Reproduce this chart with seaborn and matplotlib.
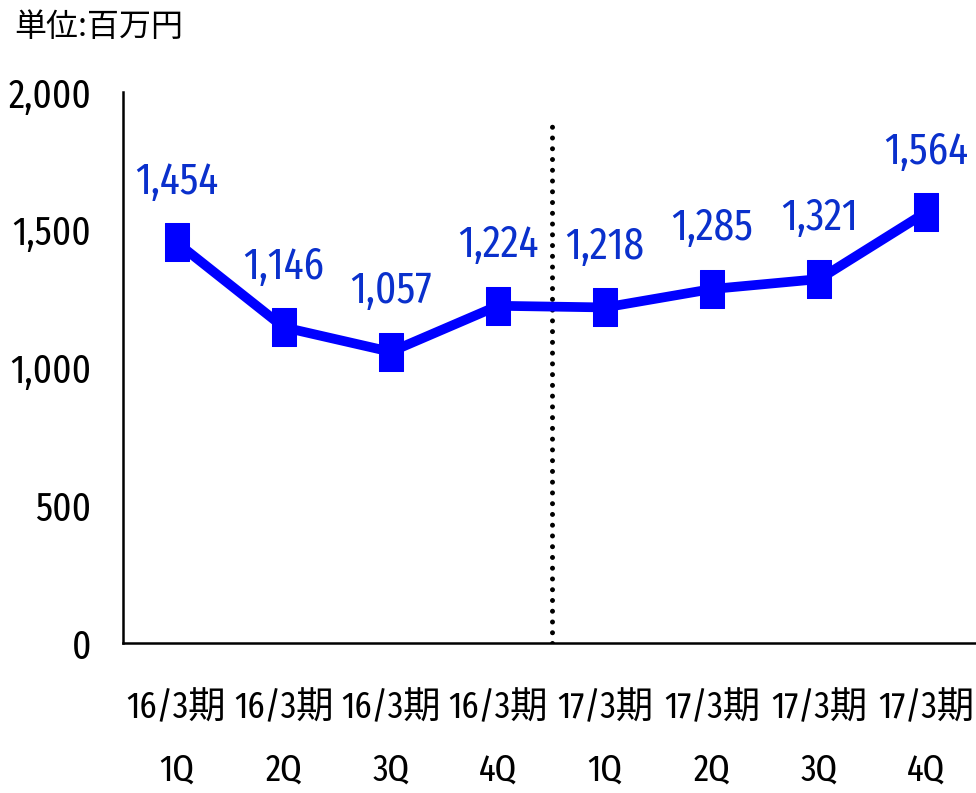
import numpy as np
import pandas as pd
import matplotlib
matplotlib.use("Agg")
import matplotlib.pyplot as plt
from matplotlib import font_manager as fm
import seaborn as sns

# ---- data ----
periods = ["16/3期\n1Q", "16/3期\n2Q", "16/3期\n3Q", "16/3期\n4Q",
           "17/3期\n1Q", "17/3期\n2Q", "17/3期\n3Q", "17/3期\n4Q"]
values = [1454, 1146, 1057, 1224, 1218, 1285, 1321, 1564]
y_ticks = [0, 500, 1000, 1500, 2000]
unit_label = "単位:百万円"

# ---- pick narrowest available sans font ----
def pick_narrow():
    best = ("DejaVu Sans", "normal", 0)
    for f in fm.fontManager.ttflist:
        n = f.name
        low = n.lower()
        if "mono" in low or "serif" in low or "cjk" in low:
            continue
        st = str(f.stretch)
        score = 0
        if "extracondensed" in low.replace(" ", "") or st in ("extra-condensed", "ultra-condensed"):
            score = 4
        elif "narrow" in low:
            score = 3
        elif ("condensed" in low and "semi" not in low) or st == "condensed":
            score = 2
        elif "semicondensed" in low.replace(" ", "") or st == "semi-condensed":
            score = 1
        if f.weight not in (400, "normal", "regular", "book"):
            score -= 0.5
        if score > best[2]:
            best = (n, st, score)
    return best

nf_name, nf_stretch, _ = pick_narrow()

sns.set_style("white")
plt.rcParams["font.family"] = [nf_name, "Noto Sans CJK JP", "DejaVu Sans"]

def fp(size):
    return fm.FontProperties(family=[nf_name, "Noto Sans CJK JP", "DejaVu Sans"],
                             stretch=nf_stretch, size=size)

df = pd.DataFrame({"x": np.arange(len(values)), "v": values})

fig = plt.figure(figsize=(9.76, 7.93), dpi=100)
ax = fig.add_axes([123 / 976, 150 / 793, 857 / 976, 551 / 793])

rect = [(-0.315, -0.5), (0.315, -0.5), (0.315, 0.5), (-0.315, 0.5), (-0.315, -0.5)]
sns.lineplot(data=df, x="x", y="v", ax=ax, color="#0000ff", lw=7,
             marker=rect, markersize=27, markeredgecolor="#0000ff",
             markerfacecolor="#0000ff", zorder=3)

# dotted divider
ax.plot([3.5, 3.5], [0, 1885], color="black", lw=3.6,
        linestyle=(0, (0.001, 2.15)), dash_capstyle="round", zorder=2)

# data labels
for i, v in enumerate(values):
    ax.annotate(f"{v:,}", (i, v), xytext=(0, 35), textcoords="offset points",
                ha="center", va="baseline", color="#0a30cc",
                fontproperties=fp(32))

ax.set_xlim(-0.5, 7.5)
ax.set_ylim(0, 2000)
ax.set_yticks(y_ticks)
ax.set_yticklabels([f"{t:,}" for t in y_ticks])
for lab in ax.get_yticklabels():
    lab.set_fontproperties(fp(29))
ax.set_xticks(np.arange(len(periods)))
ax.set_xticklabels(periods, linespacing=1.95)
for lab in ax.get_xticklabels():
    lab.set_fontproperties(fp(27))
ax.set_xticks(np.arange(len(periods)) - 0.5 + 1, minor=True)
ax.tick_params(axis="x", which="major", length=0, pad=34, colors="black")
ax.tick_params(axis="x", which="minor", length=10, width=1.2, direction="in",
               color="black")
ax.tick_params(axis="y", which="major", length=5, width=1.5, direction="in",
               pad=23, colors="black")
ax.set_xlabel("")
ax.set_ylabel("")
ax.grid(False)
for s in ["top", "right"]:
    ax.spines[s].set_visible(False)
for s in ["left", "bottom"]:
    ax.spines[s].set_linewidth(1.8)
    ax.spines[s].set_color("black")
ax.spines["bottom"].set_zorder(1)

fig.text(14 / 976, 1 - 27 / 793, unit_label, ha="left", va="center",
         fontsize=23, family=["Noto Sans CJK JP", "DejaVu Sans"], color="black")

fig.savefig("out.png", dpi=100)
